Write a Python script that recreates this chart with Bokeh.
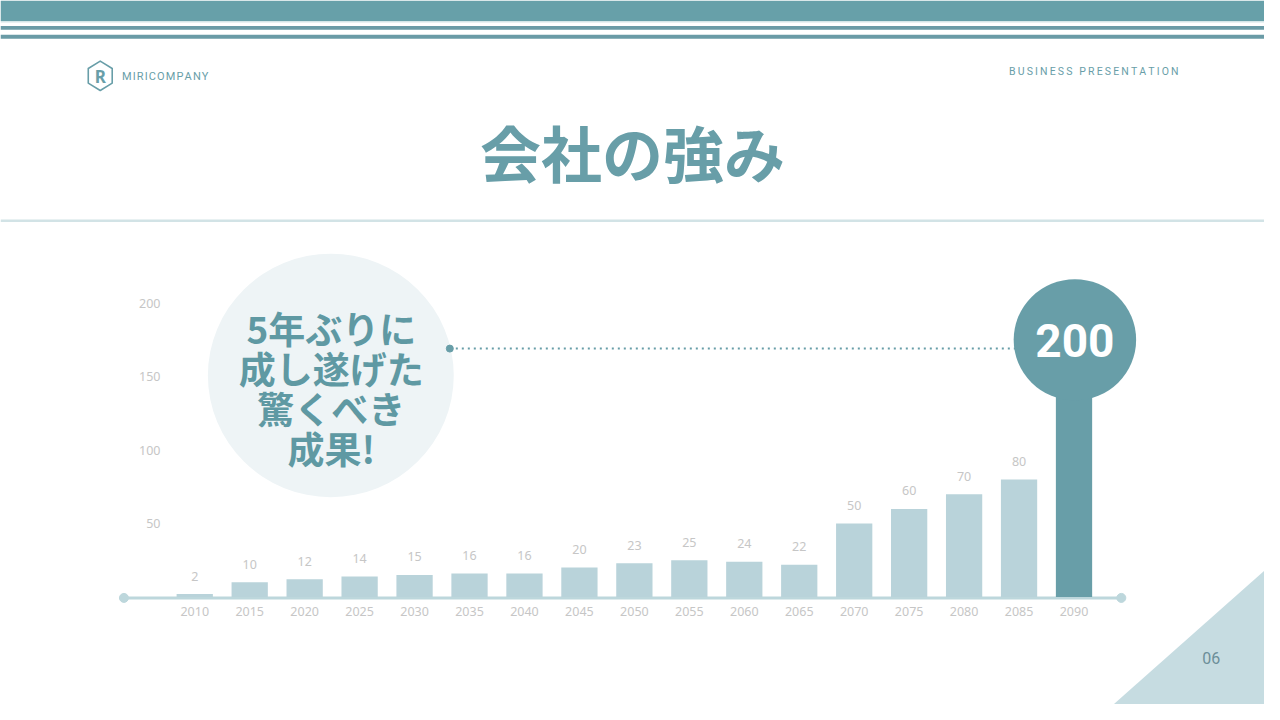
import numpy as np
from bokeh.plotting import figure
from bokeh.models import Range1d
from bokeh.core.properties import value
from bokeh.embed import file_html
from bokeh.resources import INLINE

# ---------------- data ----------------
years = [2010, 2015, 2020, 2025, 2030, 2035, 2040, 2045, 2050,
         2055, 2060, 2065, 2070, 2075, 2080, 2085, 2090]
values = [2, 10, 12, 14, 15, 16, 16, 20, 23, 25, 24, 22, 50, 60, 70, 80, 200]
y_ticks = [50, 100, 150, 200]
title_text = "会社の強み"
bubble_lines = ["5年ぶりに", "成し遂げた", "驚くべき", "成果!"]
highlight_label = "200"

# ---------------- colours ----------------
TEAL = "#689ea8"
BAR = "#b9d3da"
GRAY = "#c6c6c6"
BUBBLE = "#eef4f6"
BUBBLE_TXT = "#5f99a3"
SEP = "#d2e3e6"
TRI = "#c6dce1"

JP = value("Noto Sans CJK JP")
LAT = value("Noto Sans")

# figure frame covers the whole slide (1280x720 design units)
W, H = 1264, 704
SW, SH = 1280, 720
p = figure(width=W, height=H, output_backend="svg", toolbar_location=None,
           x_range=Range1d(0, SW), y_range=Range1d(SH, 0),
           min_border=0, min_border_left=0, min_border_right=0,
           min_border_top=0, min_border_bottom=0)
p.axis.visible = False
p.grid.visible = False
p.outline_line_color = None
p.background_fill_color = "white"
p.border_fill_color = "white"

# data ranges mapped onto the slide
x0_px, px_per_year = 196.7, 11.13
y0_px, px_per_unit = 610.0, 1.5
p.extra_x_ranges = {"yr": Range1d(2010 + (0 - x0_px) / px_per_year,
                                  2010 + (SW - x0_px) / px_per_year)}
p.extra_y_ranges = {"val": Range1d((y0_px - SH) / px_per_unit,
                                   (y0_px - 0) / px_per_unit)}

# ---------------- header decorations ----------------
p.quad(left=0, right=SW, top=0, bottom=21, color="#67a0a9", line_color=None)
p.quad(left=0, right=SW, top=21, bottom=22.5, color="#d4e6e8", line_color=None)
p.quad(left=0, right=SW, top=26, bottom=30, color="#6a9ba6", line_color=None)
p.quad(left=0, right=SW, top=35, bottom=39, color="#6a9ba6", line_color=None)

# logo hexagon
ang = np.deg2rad(np.arange(6) * 60 + 90)
p.patch(101 + 14 * np.cos(ang), 77 - 15 * np.sin(ang), fill_color=None,
        line_color=TEAL, line_width=1.6, line_join="round")
p.text(x=[101], y=[78], text=["R"], text_font=LAT, text_font_style="bold",
       text_font_size="17px", text_color=TEAL, text_align="center",
       text_baseline="middle")
p.text(x=[123], y=[78], text=["\u200a".join("MIRICOMPANY")],
       text_font=value("Roboto"), text_font_size="11px", text_color=TEAL,
       text_align="left", text_baseline="middle")
p.text(x=[1193], y=[73], text=["\u2009".join("BUSINESS PRESENTATION")],
       text_font=value("Roboto"), text_font_size="10.5px", text_color=TEAL,
       text_align="right", text_baseline="middle")

# title
p.text(x=[640], y=[154], text=[title_text], text_font=JP, text_font_style="bold",
       text_font_size="61px", text_color=TEAL, text_align="center",
       text_baseline="middle")
p.quad(left=0, right=SW, top=224, bottom=226.5, color=SEP, line_color=None)

# bottom-right triangle and page number
p.patch([1127, SW, SW], [SH, 583, SH], color=TRI, line_color=None)
p.text(x=[1226], y=[672], text=["06"], text_font=value("Roboto"),
       text_font_size="16px", text_color="#6c8f99", text_align="center",
       text_baseline="middle")

# ---------------- chart ----------------
# baseline
p.line([125, 1135], [611, 611], line_color="#bdd7dc", line_width=3)
p.scatter([125, 1135], [611, 611], size=9, color="#bdd7dc")

colors = [BAR] * (len(values) - 1) + [TEAL]
p.vbar(x=years, top=values, bottom=0, width=3.3, fill_color=colors,
       line_color=None, x_range_name="yr", y_range_name="val")

# value labels (not for highlighted)
p.text(x=years[:-1], y=values[:-1], text=[str(v) for v in values[:-1]],
       x_range_name="yr", y_range_name="val", text_font=LAT,
       text_font_size="12.5px", text_color=GRAY, text_align="center",
       text_baseline="middle", y_offset=-18)
# year labels
p.text(x=years, y=[0] * len(years), text=[str(y) for y in years],
       x_range_name="yr", y_range_name="val", text_font=LAT,
       text_font_size="12.5px", text_color=GRAY, text_align="center",
       text_baseline="middle", y_offset=15)
# y tick labels
p.text(x=[162] * len(y_ticks), y=y_ticks, text=[str(t) for t in y_ticks],
       y_range_name="val", text_font=LAT, text_font_size="12.5px",
       text_color=GRAY, text_align="right", text_baseline="middle")

# bubble
p.ellipse(x=[334.5], y=[383.5], width=249, height=249, fill_color=BUBBLE,
          line_color=None)
line_y = [335, 376, 417, 458]
p.text(x=[335] * 4, y=line_y, text=bubble_lines, text_font=JP,
       text_font_style="bold", text_font_size="37px", text_color=BUBBLE_TXT,
       text_align="center", text_baseline="middle")

# dotted connector
p.line([455, 1030], [356, 356], line_color=TEAL, line_width=2, line_dash="2 4")
p.scatter([455], [356], size=7, color=TEAL)

# highlight circle
p.ellipse(x=[1088], y=[347], width=124, height=124, fill_color=TEAL,
          line_color=None)
p.text(x=[1088], y=[348], text=[highlight_label], text_font=value("Roboto"),
       text_font_style="bold", text_font_size="46px", text_color="white",
       text_align="center", text_baseline="middle")

open("out.html", "w").write(file_html(p, INLINE))
